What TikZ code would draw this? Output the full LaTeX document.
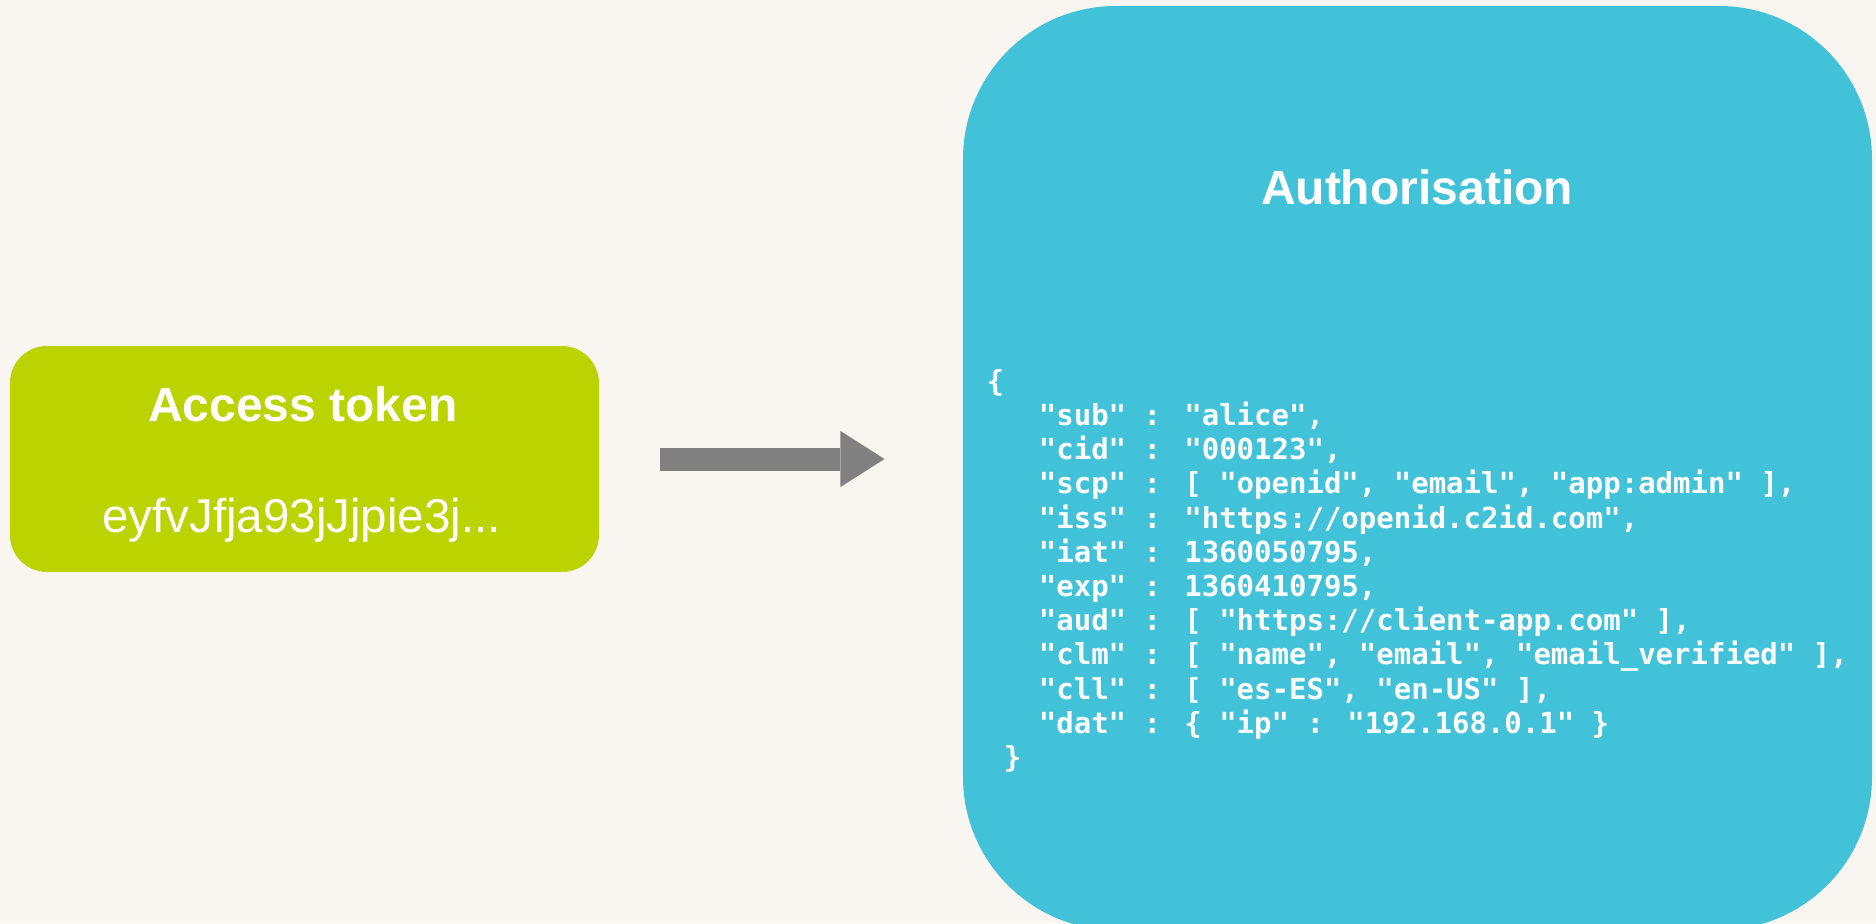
\documentclass[tikz,border=0pt]{standalone}
\usepackage{fontspec}
\setmainfont{Liberation Sans}
\newfontfamily\codefont{DejaVu Sans Mono}
\usetikzlibrary{arrows.meta}
\definecolor{paper}{RGB}{249,246,242}
\definecolor{tokgreen}{RGB}{187,211,0}
\definecolor{authblue}{RGB}{66,194,216}
\definecolor{arrowgray}{RGB}{128,128,128}

\begin{document}
\begin{tikzpicture}[x=0.4pt, y=-0.4pt,
  card/.style={fill=#1, draw=none, inner sep=0pt},
  heading/.style={text=white, inner sep=0pt, anchor=base,
    font=\fontsize{19.2pt}{23pt}\selectfont\bfseries},
  tokenvaluestyle/.style={text=white, inner sep=0pt, anchor=base,
    font=\fontsize{19pt}{23pt}\selectfont},
  claimstyle/.style={text=white, inner sep=0pt, align=left,
    font=\codefont\bfseries\fontsize{11.6pt}{13.68pt}\selectfont},
  flowarrow/.style={arrowgray, line width=9.2pt,
    -{Triangle[length=17.6pt, width=22.4pt, line width=0pt]}}
]
% canvas
\useasboundingbox (0,0) rectangle (1876,923);
\fill[paper] (0,0) rectangle (1876,923);
\clip (0,0) rectangle (1876,923);

% access token card
\node[card=tokgreen, rounded corners=14.8pt,
      minimum width=235.6pt, minimum height=90.4pt] (token) at (304.5,459) {};
\node[heading] (tokentitle) at (303,421.7) {Access token};
\node[tokenvaluestyle] (tokenvalue) at (301.5,532) {eyfvJfja93jJjpie3j...};

% authorisation card (runs past the lower edge)
\node[card=authblue, rounded corners=61.2pt,
      minimum width=363.6pt, minimum height=369.6pt] (authz) at (1417.5,468) {};
\node[heading] (authtitle) at (1417,204) {Authorisation};

% claims listing; the base anchor sits on the baseline of the closing brace
\node[claimstyle, anchor=base west] (claims) at (986,767.5) {%
\{\\
\hphantom{000}"sub" : "alice",\\
\hphantom{000}"cid" : "000123",\\
\hphantom{000}"scp" : [ "openid", "email", "app:admin" ],\\
\hphantom{000}"iss" : "https://openid.c2id.com",\\
\hphantom{000}"iat" : 1360050795,\\
\hphantom{000}"exp" : 1360410795,\\
\hphantom{000}"aud" : [ "https://client-app.com" ],\\
\hphantom{000}"clm" : [ "name", "email", "email\_verified" ],\\
\hphantom{000}"cll" : [ "es-ES", "en-US" ],\\
\hphantom{000}"dat" : \{ "ip" : "192.168.0.1" \}\\
\hphantom{0}\}};

% arrow from token to authorisation
\coordinate (arrowtail) at ([xshift=24pt]token.east);
\coordinate (authleft) at (authz.west |- token.east);
\coordinate (arrowtip) at ([xshift=-31.2pt]authleft);
\draw[flowarrow] (arrowtail) -- (arrowtip);
\end{tikzpicture}
\end{document}
